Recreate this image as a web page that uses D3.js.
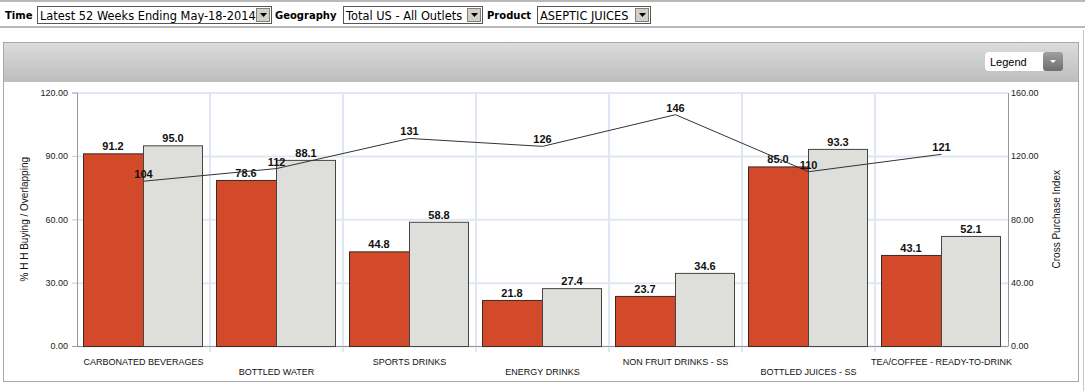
<!DOCTYPE html>
<html>
<head>
<meta charset="utf-8">
<script src="https://cdn.jsdelivr.net/npm/d3@7"></script>
<style>
  body { margin: 0; background: #fff; }
  svg { display: block; }
</style>
</head>
<body>
<div id="chart"></div>
<script>
// chart data
const categories = ["CARBONATED BEVERAGES", "BOTTLED WATER", "SPORTS DRINKS", "ENERGY DRINKS",
  "NON FRUIT DRINKS - SS", "BOTTLED JUICES - SS", "TEA/COFFEE - READY-TO-DRINK"];
const hhBuying = [91.2, 78.6, 44.8, 21.8, 23.7, 85.0, 43.1];
const overlapping = [95.0, 88.1, 58.8, 27.4, 34.6, 93.3, 52.1];
const crossIndex = [104, 112, 131, 126, 146, 110, 121];
const leftTicks = [0, 30, 60, 90, 120];
const rightTicks = [0, 40, 80, 120, 160];

// filter bar
const filters = [
  { label: "Time", value: "Latest 52 Weeks Ending May-18-2014", lx: 5, bx: 37, bw: 234 },
  { label: "Geography", value: "Total US - All Outlets", lx: 275, bx: 343, bw: 139 },
  { label: "Product", value: "ASEPTIC JUICES", lx: 487, bx: 537, bw: 113 }
];

const W = 1085, H = 391;
const svg = d3.select("#chart").append("svg")
  .attr("width", W)
  .attr("height", H);

// top bar lines
svg.append("rect").attr("x", 0).attr("y", 0).attr("width", W).attr("height", 2).attr("fill", "#b8b8b8");
svg.append("rect").attr("x", 0).attr("y", 26).attr("width", W).attr("height", 2).attr("fill", "#b8b8b8");

const fg = svg.append("g").attr("font-family", "DejaVu Sans, Verdana, sans-serif");
filters.forEach(f => {
  fg.append("text").attr("x", f.lx).attr("y", 19).attr("font-size", 10).attr("font-weight", "bold")
    .attr("fill", "#000").text(f.label);
  fg.append("rect").attr("x", f.bx + 0.5).attr("y", 6.5).attr("width", f.bw).attr("height", 17)
    .attr("fill", "#fff").attr("stroke", "#555");
  fg.append("text").attr("x", f.bx + 3).attr("y", 19.5).attr("font-size", 11.4).attr("fill", "#000")
    .text(f.value);
  // dropdown arrow button
  const ax = f.bx + f.bw - 15;
  fg.append("rect").attr("x", ax + 0.5).attr("y", 8.5).attr("width", 13).attr("height", 13)
    .attr("fill", "#d4d0c8").attr("stroke", "#808080");
  fg.append("path").attr("d", `M${ax + 4},${13} L${ax + 11},${13} L${ax + 7.5},${17} Z`).attr("fill", "#000");
});

// panel
svg.append("rect").attr("x", 3.5).attr("y", 42.5).attr("width", 1075).attr("height", 339)
  .attr("fill", "#fff").attr("stroke", "#a8a8a8");
svg.append("line").attr("x1", 1083.5).attr("x2", 1083.5).attr("y1", 30).attr("y2", 391).attr("stroke", "#c8c8c8");

const defs = svg.append("defs");
const grad = defs.append("linearGradient").attr("id", "hdr").attr("x1", 0).attr("x2", 0).attr("y1", 0).attr("y2", 1);
grad.append("stop").attr("offset", "0%").attr("stop-color", "#dcdcdc");
grad.append("stop").attr("offset", "100%").attr("stop-color", "#bdbdbd");
const grad2 = defs.append("linearGradient").attr("id", "btn").attr("x1", 0).attr("x2", 0).attr("y1", 0).attr("y2", 1);
grad2.append("stop").attr("offset", "0%").attr("stop-color", "#a0a0a0");
grad2.append("stop").attr("offset", "100%").attr("stop-color", "#6e6e6e");

svg.append("rect").attr("x", 4).attr("y", 43).attr("width", 1074).attr("height", 39).attr("fill", "url(#hdr)");

// legend button
svg.append("rect").attr("x", 985).attr("y", 52).attr("width", 78).attr("height", 19).attr("rx", 4)
  .attr("fill", "#fff");
svg.append("rect").attr("x", 1043).attr("y", 52).attr("width", 20).attr("height", 19).attr("rx", 3)
  .attr("fill", "url(#btn)");
svg.append("path").attr("d", "M1050,60 L1056,60 L1053,63 Z").attr("fill", "#fff");
svg.append("text").attr("x", 990).attr("y", 66).attr("font-family", "Liberation Sans, Arial, sans-serif")
  .attr("font-size", 11).attr("fill", "#000").text("Legend");

// plot
const plotLeft = 77, plotRight = 1008, plotTop = 92.5, plotBottom = 346;
const x = d3.scaleBand().domain(categories).range([plotLeft, plotRight]);
const bw = x.bandwidth();
const xs = d3.scaleBand().domain(["hh", "ov"]).range([6, bw - 7]);
const yL = d3.scaleLinear().domain([0, 120]).range([plotBottom, plotTop]);
const yR = d3.scaleLinear().domain([0, 160]).range([plotBottom, plotTop]);

const gridColor = "#dfe8f2";
// horizontal gridlines
svg.append("g")
  .attr("transform", `translate(${plotLeft},0)`)
  .call(d3.axisLeft(yL).tickValues(leftTicks).tickSize(-(plotRight - plotLeft)).tickFormat(""))
  .call(g => g.select(".domain").remove())
  .call(g => g.selectAll("line").attr("stroke", gridColor).attr("stroke-width", 2));
// vertical gridlines at band edges
svg.append("g").selectAll("line")
  .data(categories.slice(1))
  .join("line")
  .attr("x1", d => x(d)).attr("x2", d => x(d))
  .attr("y1", plotTop).attr("y2", plotBottom + 6)
  .attr("stroke", gridColor).attr("stroke-width", 2);

// left axis
svg.append("g")
  .attr("transform", `translate(${plotLeft},0)`)
  .call(d3.axisLeft(yL).tickValues(leftTicks).tickSize(5).tickPadding(4).tickFormat(d3.format(".2f")))
  .call(g => g.select(".domain").attr("stroke", "#999"))
  .call(g => g.selectAll("line").attr("stroke", "#ccc"))
  .call(g => g.selectAll("text").attr("font-family", "Liberation Sans, Arial, sans-serif")
    .attr("font-size", 9).attr("fill", "#222"));

// right axis
svg.append("g")
  .attr("transform", `translate(${plotRight},0)`)
  .call(d3.axisRight(yR).tickValues(rightTicks).tickSize(0).tickPadding(3).tickFormat(d3.format(".2f")))
  .call(g => g.select(".domain").attr("stroke", "#999"))
  .call(g => g.selectAll("text").attr("font-family", "Liberation Sans, Arial, sans-serif")
    .attr("font-size", 9).attr("fill", "#222"));

// bottom axis line
svg.append("line").attr("x1", plotLeft - 5).attr("x2", plotRight).attr("y1", plotBottom + 0.5).attr("y2", plotBottom + 0.5)
  .attr("stroke", "#999");

// bars
const rows = categories.map((c, i) => ({ c, hh: hhBuying[i], ov: overlapping[i], idx: crossIndex[i], i }));
const groups = svg.append("g").selectAll("g")
  .data(rows)
  .join("g")
  .attr("transform", d => `translate(${x(d.c)},0)`);

groups.append("rect")
  .attr("x", xs("hh") + 0.5).attr("y", d => yL(d.hh) + 0.5)
  .attr("width", xs.bandwidth()).attr("height", d => plotBottom - yL(d.hh))
  .attr("fill", "#d24a2a").attr("stroke", "#3a2a22");
groups.append("rect")
  .attr("x", xs("ov") + 0.5).attr("y", d => yL(d.ov) + 0.5)
  .attr("width", xs.bandwidth() - 1).attr("height", d => plotBottom - yL(d.ov))
  .attr("fill", "#dededb").attr("stroke", "#444");

const lblFont = "Liberation Sans, Arial, sans-serif";
groups.append("text")
  .attr("x", xs("hh") + xs.bandwidth() / 2).attr("y", d => yL(d.hh) - 3)
  .attr("text-anchor", "middle").attr("font-family", lblFont).attr("font-size", 11)
  .attr("font-weight", "bold").attr("fill", "#111")
  .text(d => d3.format(".1f")(d.hh));
groups.append("text")
  .attr("x", xs("ov") + xs.bandwidth() / 2).attr("y", d => yL(d.ov) - 3)
  .attr("text-anchor", "middle").attr("font-family", lblFont).attr("font-size", 11)
  .attr("font-weight", "bold").attr("fill", "#111")
  .text(d => d3.format(".1f")(d.ov));

// category labels, staggered
groups.append("text")
  .attr("x", bw / 2).attr("y", d => d.i % 2 === 0 ? 365 : 375)
  .attr("text-anchor", "middle").attr("font-family", lblFont).attr("font-size", 9)
  .attr("fill", "#111")
  .text(d => d.c);

// cross purchase index line
const line = d3.line()
  .x(d => x(d.c) + bw / 2)
  .y(d => yR(d.idx));
svg.append("path").datum(rows)
  .attr("d", line).attr("fill", "none").attr("stroke", "#333").attr("stroke-width", 1);
svg.append("g").selectAll("text")
  .data(rows)
  .join("text")
  .attr("x", d => x(d.c) + bw / 2).attr("y", d => yR(d.idx) - 3)
  .attr("text-anchor", "middle").attr("font-family", lblFont).attr("font-size", 11)
  .attr("font-weight", "bold").attr("fill", "#111")
  .text(d => d.idx);

// axis titles
svg.append("text")
  .attr("transform", `translate(28,${(plotTop + plotBottom) / 2}) rotate(-90)`)
  .attr("text-anchor", "middle").attr("font-family", lblFont).attr("font-size", 10).attr("fill", "#111")
  .text("% H H Buying / Overlapping");
svg.append("text")
  .attr("transform", `translate(1060,${(plotTop + plotBottom) / 2}) rotate(-90)`)
  .attr("text-anchor", "middle").attr("font-family", lblFont).attr("font-size", 10).attr("fill", "#111")
  .text("Cross Purchase Index");
</script>
</body>
</html>
